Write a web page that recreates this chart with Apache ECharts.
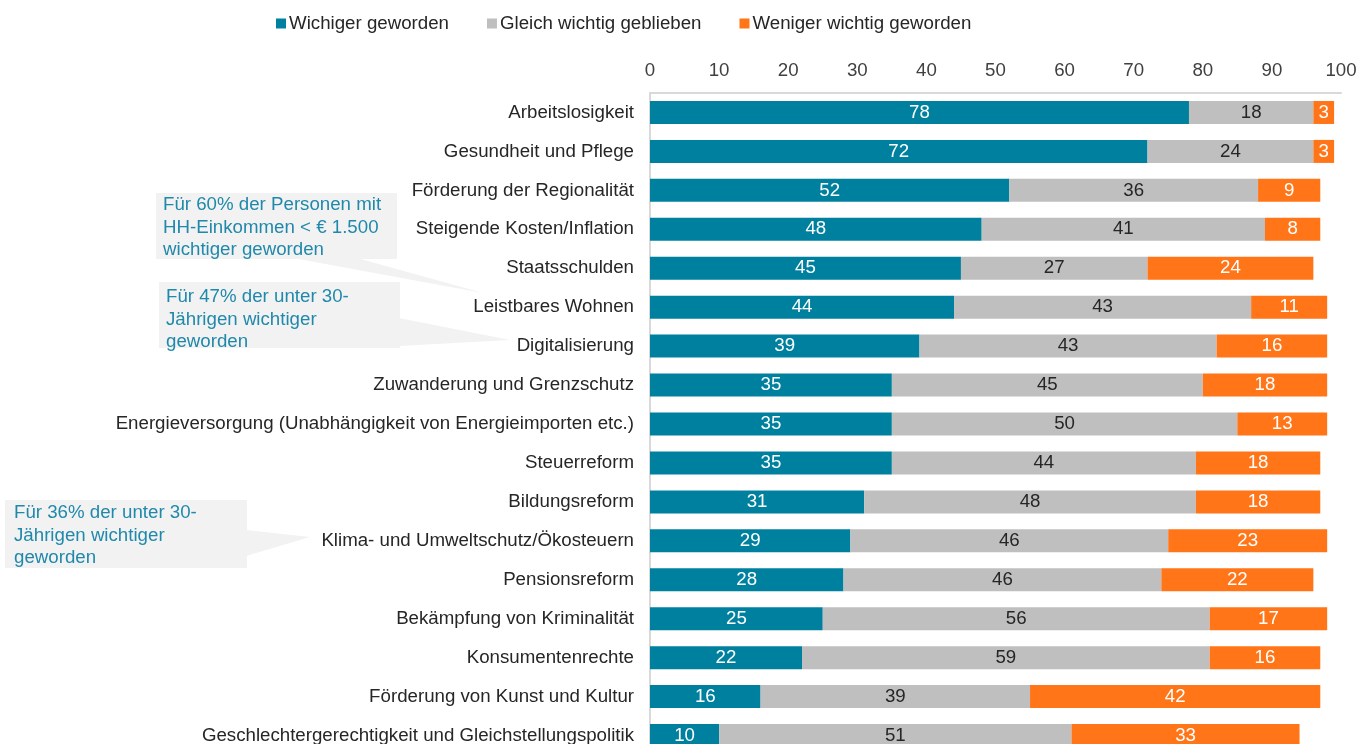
<!DOCTYPE html>
<html>
<head>
<meta charset="utf-8">
<script src="https://cdn.jsdelivr.net/npm/echarts@6.0.0/dist/echarts.min.js"></script>
<style>
  html, body { margin: 0; padding: 0; background: #fff; }
  #chart { width: 1361px; height: 744px; }
</style>
</head>
<body>
<div id="chart"></div>
<script>
// Themen und Anteile in Prozent
var categories = [
    'Arbeitslosigkeit',
    'Gesundheit und Pflege',
    'Förderung der Regionalität',
    'Steigende Kosten/Inflation',
    'Staatsschulden',
    'Leistbares Wohnen',
    'Digitalisierung',
    'Zuwanderung und Grenzschutz',
    'Energieversorgung (Unabhängigkeit von Energieimporten etc.)',
    'Steuerreform',
    'Bildungsreform',
    'Klima- und Umweltschutz/Ökosteuern',
    'Pensionsreform',
    'Bekämpfung von Kriminalität',
    'Konsumentenrechte',
    'Förderung von Kunst und Kultur',
    'Geschlechtergerechtigkeit und Gleichstellungspolitik'
];
var wichtiger = [78, 72, 52, 48, 45, 44, 39, 35, 35, 35, 31, 29, 28, 25, 22, 16, 10];
var gleich    = [18, 24, 36, 41, 27, 43, 43, 45, 50, 44, 48, 46, 46, 56, 59, 39, 51];
var weniger   = [3, 3, 9, 8, 24, 11, 16, 18, 13, 18, 18, 23, 22, 17, 16, 42, 33];
var xTicks = [0, 100, 10]; // min, max, interval

var seriesNames = ['Wichiger geworden', 'Gleich wichtig geblieben', 'Weniger wichtig geworden'];
var colors = ['#00809f', '#bfbfbf', '#ff7518'];
var labelColors = ['#ffffff', '#262626', '#ffffff'];

var calloutColor = '#2089ab';
var boxFill = '#f2f2f2';
var fs = 18.7;

var dom = document.getElementById('chart');
var myChart = echarts.init(dom);

function makeSeries(i, data) {
    return {
        name: seriesNames[i],
        type: 'bar',
        stack: 'total',
        barWidth: 23,
        data: data,
        itemStyle: { color: colors[i] },
        label: {
            show: true,
            position: 'inside',
            color: labelColors[i],
            fontSize: fs,
            fontFamily: 'Liberation Sans'
        },
        emphasis: { disabled: true }
    };
}

function callout(box, pointer, lines, textX, textY) {
    return [
        {
            type: 'polygon',
            shape: { points: pointer },
            style: { fill: boxFill },
            silent: true
        },
        {
            type: 'rect',
            shape: box,
            style: { fill: boxFill },
            silent: true
        },
        {
            type: 'text',
            x: textX,
            y: textY,
            style: {
                text: lines.join('\n'),
                fill: calloutColor,
                font: fs + 'px "Liberation Sans"',
                lineHeight: 22.5
            },
            silent: true
        }
    ];
}

var option = {
    animation: false,
    textStyle: { fontFamily: 'Liberation Sans' },
    legend: {
        left: 271,
        top: 9,
        itemWidth: 10,
        itemHeight: 10,
        itemGap: 38,
        icon: 'rect',
        textStyle: { fontSize: fs, color: '#262626', fontFamily: 'Liberation Sans', padding: [0, 0, 0, -2] },
        data: seriesNames
    },
    grid: {
        left: 650,
        right: 20,
        top: 93,
        bottom: -11,
        containLabel: false,
        outerBoundsMode: 'none'
    },
    xAxis: {
        type: 'value',
        position: 'top',
        min: xTicks[0],
        max: xTicks[1],
        interval: xTicks[2],
        splitLine: { show: false },
        axisTick: { show: false },
        axisLine: { show: true, lineStyle: { color: '#d9d9d9', width: 2 } },
        axisLabel: { fontSize: fs, color: '#404040', margin: 13 }
    },
    yAxis: {
        type: 'category',
        inverse: true,
        data: categories,
        axisTick: { show: false },
        axisLine: { show: true, lineStyle: { color: '#d9d9d9', width: 2 } },
        axisLabel: { fontSize: fs, color: '#262626', margin: 16 }
    },
    graphic: [].concat(
        callout({ x: 156, y: 193, width: 241, height: 66 },
            [[293, 258], [357, 258], [483, 293]],
            ['Für 60% der Personen mit', 'HH-Einkommen < € 1.500', 'wichtiger geworden'], 163, 194),
        callout({ x: 159, y: 282, width: 241, height: 66 },
            [[399, 318], [399, 346], [510, 340]],
            ['Für 47% der unter 30-', 'Jährigen wichtiger', 'geworden'], 166, 286),
        callout({ x: 5, y: 500, width: 242, height: 68 },
            [[246, 530], [246, 556], [310, 537]],
            ['Für 36% der unter 30-', 'Jährigen wichtiger', 'geworden'], 14, 502)
    ),
    series: [
        makeSeries(0, wichtiger),
        makeSeries(1, gleich),
        makeSeries(2, weniger)
    ]
};

if (option && typeof option === 'object') {
    myChart.setOption(option);
}
</script>
</body>
</html>
